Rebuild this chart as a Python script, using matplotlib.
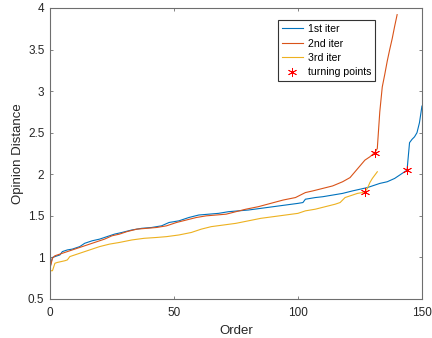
import matplotlib
matplotlib.use("Agg")
import matplotlib.pyplot as plt

iter1_x = [0, 1, 2, 4, 5, 7, 9, 12, 14, 17, 20, 23, 26, 29, 33, 37, 41, 45, 48, 52,
           56, 60, 64, 68, 72, 76, 80, 85, 90, 95, 100, 102, 103, 107, 110, 114, 118,
           122, 125, 128, 130, 133, 136, 139, 141, 143, 144, 145, 146, 147, 148, 149, 150]
iter1_y = [0.88, 1.00, 1.01, 1.03, 1.07, 1.09, 1.10, 1.13, 1.17, 1.20, 1.22, 1.25, 1.28,
           1.30, 1.33, 1.35, 1.36, 1.38, 1.42, 1.44, 1.48, 1.51, 1.52, 1.53, 1.55, 1.56,
           1.57, 1.59, 1.61, 1.63, 1.65, 1.66, 1.70, 1.72, 1.73, 1.75, 1.77, 1.80, 1.82,
           1.84, 1.86, 1.89, 1.91, 1.95, 1.99, 2.03, 2.05, 2.38, 2.42, 2.45, 2.50, 2.62, 2.82]

iter2_x = [0, 1, 2, 4, 6, 8, 10, 13, 16, 19, 22, 25, 28, 31, 35, 39, 43, 47, 51, 55, 59,
           63, 67, 71, 75, 79, 84, 89, 94, 99, 103, 106, 110, 114, 118, 121, 123, 125,
           127, 129, 131, 132, 133, 134, 135, 136, 137, 138, 139, 140]
iter2_y = [0.87, 0.99, 1.02, 1.04, 1.06, 1.08, 1.10, 1.13, 1.16, 1.19, 1.22, 1.26, 1.28,
           1.31, 1.34, 1.35, 1.36, 1.38, 1.42, 1.45, 1.48, 1.50, 1.51, 1.52, 1.55, 1.58,
           1.61, 1.65, 1.69, 1.72, 1.78, 1.80, 1.83, 1.86, 1.91, 1.96, 2.03, 2.10, 2.17,
           2.21, 2.26, 2.31, 2.75, 3.05, 3.20, 3.36, 3.50, 3.63, 3.78, 3.92]

iter3_x = [0, 1, 2, 3, 6, 7, 8, 10, 13, 16, 20, 24, 28, 33, 38, 43, 47, 52, 57, 61, 65,
           70, 75, 80, 85, 90, 95, 100, 103, 107, 111, 115, 117, 119, 122, 124, 126, 127,
           128, 129, 130, 131, 132]
iter3_y = [0.84, 0.84, 0.93, 0.94, 0.96, 0.97, 1.01, 1.03, 1.06, 1.09, 1.13, 1.16, 1.18,
           1.21, 1.23, 1.24, 1.25, 1.27, 1.30, 1.34, 1.37, 1.39, 1.41, 1.44, 1.47, 1.49,
           1.51, 1.53, 1.56, 1.58, 1.61, 1.64, 1.66, 1.72, 1.75, 1.77, 1.78, 1.79, 1.83,
           1.90, 1.95, 1.99, 2.03]

turn_x = [144, 131, 127]
turn_y = [2.05, 2.26, 1.79]

x_ticks = [0, 50, 100, 150]
y_ticks = [0.5, 1, 1.5, 2, 2.5, 3, 3.5, 4]

plt.rcParams.update({
    "font.family": ["Liberation Sans", "DejaVu Sans"],
    "font.size": 8.5,
})

fig = plt.figure(figsize=(4.32, 3.38), dpi=100)
ax = fig.add_axes([0.1157, 0.1154, 0.861, 0.861])

ax.plot(iter1_x, iter1_y, color="#0072BD", linewidth=0.8, label="1st iter")
ax.plot(iter2_x, iter2_y, color="#D95319", linewidth=0.8, label="2nd iter")
ax.plot(iter3_x, iter3_y, color="#EDB120", linewidth=0.8, label="3rd iter")
ax.plot(turn_x, turn_y, linestyle="none", marker=(6, 2, 0), color="red",
        markersize=6.5, markeredgewidth=0.6, label="turning points")

ax.set_xlim(0, 150)
ax.set_ylim(0.5, 4)
ax.set_xticks(x_ticks)
ax.set_yticks(y_ticks)
ax.set_yticklabels([f"{v:g}" for v in y_ticks])
ax.tick_params(direction="in", length=2.5, width=0.6, top=True, right=True,
               colors="#6e6e6e", labelcolor="#262626", labelsize=8.5)
ax.tick_params(axis="x", pad=6)
ax.tick_params(axis="y", pad=4)
for spine in ax.spines.values():
    spine.set_color("#6e6e6e")
    spine.set_linewidth(0.8)

ax.set_xlabel("Order", fontsize=9.5, color="#262626", labelpad=4)
ax.set_ylabel("Opinion Distance", fontsize=9.5, color="#262626", labelpad=3)

leg = ax.legend(loc="upper left", bbox_to_anchor=(0.613, 0.957), fontsize=7.6,
                handlelength=2.0, handletextpad=0.5, labelspacing=0.42,
                borderpad=0.35, borderaxespad=0.0, fancybox=False, framealpha=1)
leg.get_frame().set_edgecolor("#333333")
leg.get_frame().set_linewidth(0.8)

fig.savefig("out.png", dpi=100)
